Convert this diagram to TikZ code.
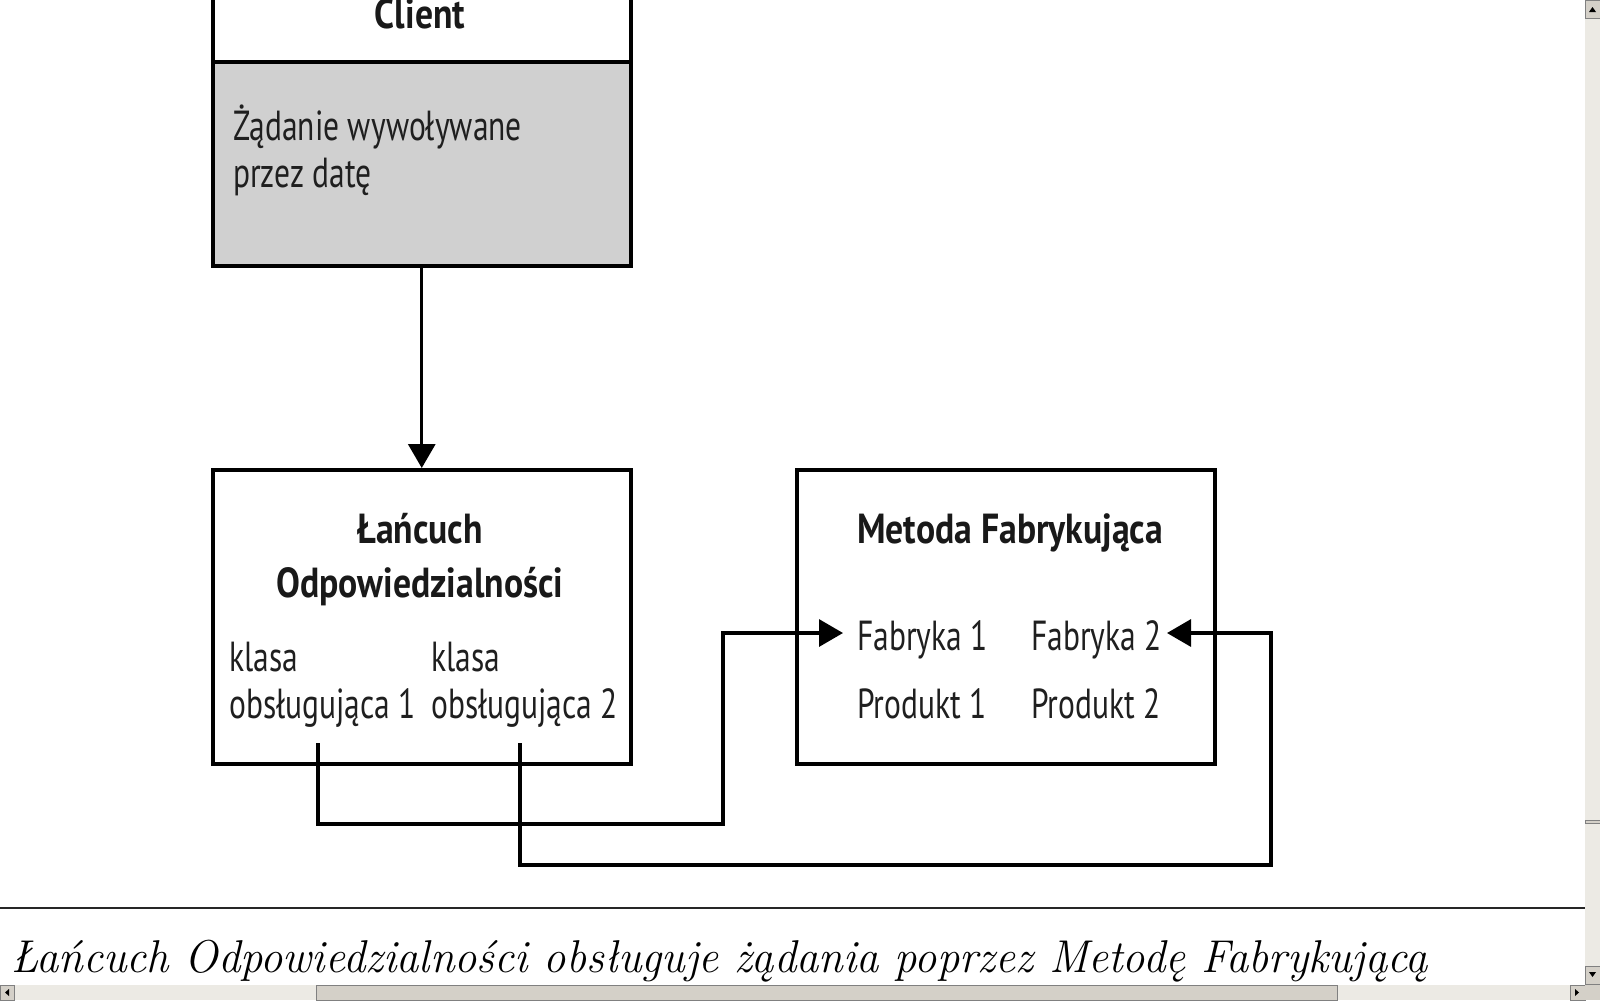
\documentclass[tikz,border=0pt]{standalone}
\usepackage{fontspec}
\newfontfamily\diag[FakeStretch=0.75]{PT Sans}
\newfontfamily\diagb[FakeStretch=0.85]{PT Sans}
\usetikzlibrary{arrows.meta}
\definecolor{boxgray}{HTML}{D0D0D0}
\definecolor{sbtrack}{HTML}{ECEAE4}
\definecolor{sbface}{HTML}{D4D0C8}
\definecolor{sbdark}{HTML}{808080}
\tikzset{
  box/.style={draw=black, line width=3.5bp, inner sep=0pt, anchor=north west},
  conn/.style={draw=black, line width=3.2bp},
  tip/.style={-{Triangle[length=24bp,width=27bp]}},
  lbl/.style={font=\diag\fontsize{42bp}{48bp}\selectfont, inner sep=0pt, text=black!88},
  blbl/.style={font=\diagb\bfseries\fontsize{42bp}{48bp}\selectfont, inner sep=0pt, text=black!90},
  sb/.style={fill=sbface, draw=sbdark, line width=0.8bp},
}
\begin{document}
\begin{tikzpicture}[x=1bp,y=-1bp]
\useasboundingbox (0,0) rectangle (1600,1000);
\clip (0,0) rectangle (1600,1000);
\fill[white] (0,0) rectangle (1600,1000);

% Client box
\node[box, fill=white, minimum width=418bp, minimum height=100bp] (clienthead) at (211,-40) {};
\node[box, fill=boxgray, minimum width=418bp, minimum height=204bp] (clientbody) at (211,60) {};
\node[blbl, anchor=base] (clientlbl) at (420,28) {Client};
\node[lbl, anchor=base west] (req1) at (233,140) {Żądanie wywoływane};
\node[lbl, anchor=base west] (req2) at (233,187) {przez datę};

% Chain box
\node[box, minimum width=418bp, minimum height=294bp] (chain) at (211,468) {};
\node[blbl, anchor=base] (ch1) at (420,543) {Łańcuch};
\node[blbl, anchor=base] (ch2) at (420,597) {Odpowiedzialności};
\node[lbl, anchor=base west] (k1a) at (229,671) {klasa};
\node[lbl, anchor=base west] (k1b) at (229,718) {obsługująca 1};
\node[lbl, anchor=base west] (k2a) at (431,671) {klasa};
\node[lbl, anchor=base west] (k2b) at (431,718) {obsługująca 2};

% Factory box
\node[box, minimum width=418bp, minimum height=294bp] (factory) at (795,468) {};
\node[blbl, anchor=base] (fm) at (1010,543) {Metoda Fabrykująca};
\node[lbl, anchor=base west] (f1) at (857,650) {Fabryka 1};
\node[lbl, anchor=base west] (p1) at (857,718) {Produkt 1};
\node[lbl, anchor=base west] (f2) at (1031,650) {Fabryka 2};
\node[lbl, anchor=base west] (p2) at (1031,718) {Produkt 2};

% connectors
\draw[conn, tip] (clientbody.south) -- (chain.north);
\coordinate (h1) at (318,743);
\coordinate (h2) at (520,743);
\coordinate (j1) at (723,824);
\coordinate (j2) at (1271,865);
\coordinate (t1) at (843,633);
\coordinate (t2) at (1167,633);
\draw[conn, tip] (h1) |- (j1) |- (t1);
\draw[conn, tip] (h2) |- (j2) |- (t2);

% caption rule and caption
\coordinate (r0) at (0,908);
\coordinate (r1) at (1585,908);
\draw[line width=2.5bp, black!85] (r0) -- (r1);
\node[anchor=base west, inner sep=0pt, font=\itshape\fontsize{46bp}{52bp}\selectfont] (cap) at (11,972)
  {\scalebox{0.97}[1]{Łańcuch Odpowiedzialności obsługuje żądania poprzez Metodę Fabrykującą}};

% scrollbars
\fill[sbtrack] (1585,0) rectangle (1600,985);
\fill[sbtrack] (0,985) rectangle (1585,1000);
\draw[sb] (1585,0) rectangle (1600,18);
\fill[black] (1589,12) -- (1596,12) -- (1592.5,7) -- cycle;
\draw[sb] (1585,820) rectangle (1600,823);
\draw[sb] (1585,966) rectangle (1600,984);
\fill[black] (1589,972) -- (1596,972) -- (1592.5,977) -- cycle;
\draw[sb] (0,985) rectangle (14,1000);
\fill[black] (9,989) -- (9,996) -- (5,992.5) -- cycle;
\draw[sb] (316,985) rectangle (1337,1000);
\draw[sb] (1570,985) rectangle (1585,1000);
\fill[black] (1575,989) -- (1575,996) -- (1579,992.5) -- cycle;
\fill[sbface] (1585,985) rectangle (1600,1000);
\end{tikzpicture}
\end{document}
